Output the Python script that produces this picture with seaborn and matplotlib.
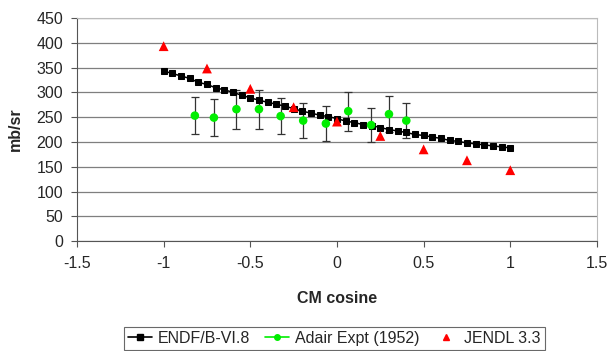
import numpy as np
import pandas as pd
import seaborn as sns
import matplotlib
matplotlib.use("Agg")
import matplotlib.pyplot as plt
from matplotlib.lines import Line2D

# ENDF/B-VI.8 evaluation, cosine -1..1 in steps of 0.05
endf_x = np.round(np.arange(-1.0, 1.0001, 0.05), 2)
endf_y = [343, 338, 333, 328, 320, 316, 309, 305, 300, 294, 289, 284, 280, 276,
          272, 267, 262, 258, 254, 251, 247, 242, 239, 235, 233, 229, 225, 222,
          219, 215, 213, 210, 207, 203, 201, 198, 196, 194, 192, 190, 188]

# Adair experiment (1952)
adair_x = [-0.82, -0.71, -0.58, -0.45, -0.325, -0.195, -0.064, 0.065, 0.197, 0.30, 0.40]
adair_y = [253, 249, 266, 266, 252, 243, 237, 262, 234, 256, 243]
adair_err = [37, 37, 39, 39, 37, 36, 36, 39, 35, 37, 36]

# JENDL 3.3
jendl_x = [-1.0, -0.75, -0.5, -0.25, 0.0, 0.25, 0.5, 0.75, 1.0]
jendl_y = [393, 348, 307, 270, 241, 212, 185, 163, 143]

sns.set_style("white")
plt.rcParams['font.family'] = ['Liberation Sans', 'DejaVu Sans']

endf = pd.DataFrame({'cos': endf_x, 'val': endf_y})
adair = pd.DataFrame({'cos': adair_x, 'val': adair_y})
jendl = pd.DataFrame({'cos': jendl_x, 'val': jendl_y})

fig = plt.figure(figsize=(6.11, 3.51), dpi=100)
ax = fig.add_axes([0.126, 0.313, 0.851, 0.636])

ax.errorbar(adair['cos'], adair['val'], yerr=adair_err, fmt='none',
            ecolor='#333333', elinewidth=0.9, capsize=3, capthick=0.9, zorder=2)
sns.lineplot(data=endf, x='cos', y='val', ax=ax, color='black', lw=1.1,
             marker='s', markersize=5, markeredgecolor='black', zorder=3)
sns.scatterplot(data=adair, x='cos', y='val', ax=ax, color='#00ee00', s=38,
                edgecolor='none', marker='o', zorder=4)
sns.scatterplot(data=jendl, x='cos', y='val', ax=ax, color='#ff0000', s=50,
                edgecolor='none', marker='^', zorder=5)

ax.set_xlim(-1.5, 1.5)
ax.set_ylim(0, 450)
ax.set_xticks(np.arange(-1.5, 1.51, 0.5))
ax.set_xticklabels(['-1.5', '-1', '-0.5', '0', '0.5', '1', '1.5'])
ax.set_yticks(range(0, 451, 50))
ax.yaxis.grid(True, color='#7f7f7f', lw=0.9)
ax.set_axisbelow(True)
for s in ['left', 'bottom']:
    ax.spines[s].set_color('#555555')
for s in ['right', 'top']:
    ax.spines[s].set_color('#bbbbbb')
ax.tick_params(axis='both', direction='out', length=4, width=0.8,
               color='#555555', labelsize=11.5, left=True, bottom=True)
ax.tick_params(axis='x', pad=7)
ax.tick_params(axis='y', pad=6)
ax.set_xlabel('CM cosine', fontsize=11.5, fontweight='bold', labelpad=14)
ax.set_ylabel('mb/sr', fontsize=11.5, fontweight='bold', labelpad=10)

handles = [
    Line2D([], [], color='black', marker='s', markersize=4, lw=1.2),
    Line2D([], [], color='#00ee00', marker='o', markersize=4, lw=1.2),
    Line2D([], [], color='#ff0000', marker='^', markersize=5, lw=0),
]
leg = fig.legend(handles, ['ENDF/B-VI.8', 'Adair Expt (1952)', 'JENDL 3.3'],
                 loc='center', bbox_to_anchor=(0.547, 0.037), ncol=3,
                 fontsize=11.5, frameon=True, fancybox=False, handlelength=1.5,
                 handletextpad=0.4, columnspacing=0.9, borderpad=0.25,
                 borderaxespad=0.2)
leg.get_frame().set_edgecolor('#444444')
leg.get_frame().set_linewidth(0.8)

fig.savefig('out.png', dpi=100)
